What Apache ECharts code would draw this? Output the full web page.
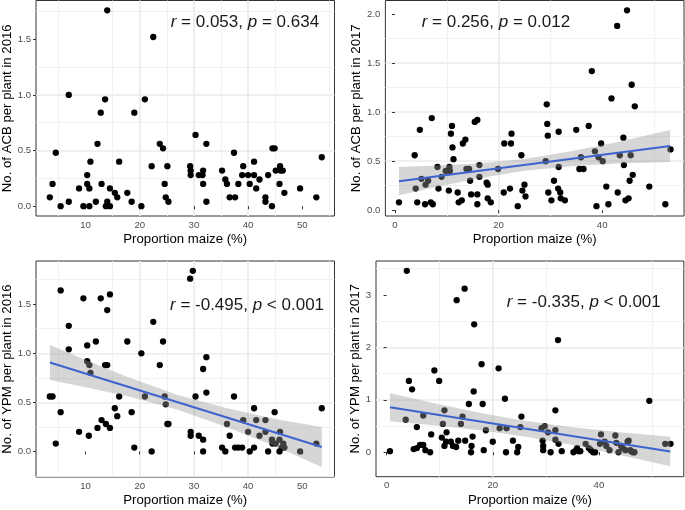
<!DOCTYPE html>
<html>
<head>
<meta charset="utf-8">
<script src="https://cdn.jsdelivr.net/npm/echarts@6/dist/echarts.min.js"></script>
<style>
  html, body { margin: 0; padding: 0; background: #fff; }
  #mainChart { width: 685px; height: 510px; }
</style>
</head>
<body>
<div id="mainChart"></div>
<script>
// points: [proportion maize (%), count per plant]
var acb2016 = [[3.4,0.08],[3.9,0.2],[4.5,0.48],[5.4,0],[6.9,1.0],[6.9,0.04],[8.8,0.16],[9.6,0],[10.3,0.28],[10.3,0.2],
  [10.7,0.16],[10.7,0],[10.9,0.4],[11.9,0.04],[12.2,0.56],[12.8,0.84],[12.95,0.2],[13.6,0.96],[14.0,0.04],[14.0,1.76],
  [13.75,0],[14.5,0],[14.5,0.16],[15.4,0.12],[15.85,0.08],[16.2,0.4],[17.7,0.12],[18.5,0.04],[19.0,0.84],[20.3,0],
  [20.95,0.96],[22.2,0.36],[22.5,1.52],[23.7,0.56],[24.3,0.52],[24.6,0.2],[24.8,0.08],[25.1,0.36],[25.3,0.04],[29.3,0.36],
  [29.4,0.32],[29.4,0.28],[30.3,0.64],[30.9,0.28],[31.6,0.28],[31.7,0.32],[31.7,0.2],[32.3,0.56],[32.3,0.04],[35.2,0.32],
  [35.8,0.24],[36.1,0.2],[36.6,0.08],[37.4,0.48],[37.6,0.08],[38.2,0.2],[38.9,0.28],[39.1,0.36],[40.0,0.28],[40.3,0.2],
  [41.1,0.4],[41.1,0.28],[41.5,0.16],[42.1,0.24],[43.2,0.08],[43.2,0.04],[43.7,0.28],[44.4,0],[44.5,0.52],[44.9,0.52],
  [45.1,0.32],[45.8,0.2],[45.9,0.36],[46.0,0.32],[46.4,0.32],[46.7,0.12],[49.6,0.16],[52.6,0.08],[53.6,0.44]];

var acb2017 = [[0.77,0.08],[3.8,0.56],[4.0,0.22],[4.3,0.08],[4.8,0.82],[5.1,0.32],[5.8,0.06],[5.9,0.26],[6.4,0.3],[6.9,0.08],
  [7.1,0.94],[7.3,0.06],[8.2,0.44],[8.4,0.22],[9.0,0.34],[9.8,0.4],[10.4,0.2],[10.5,0.44],[10.6,0.4],[10.8,0.78],
  [11.0,0.86],[11.1,0.64],[11.3,0.52],[12.1,0.18],[12.3,0.08],[12.9,0.1],[13.1,0.68],[13.6,0.72],[13.8,0.42],[14.3,0.42],
  [14.5,0.3],[14.7,0.16],[15.4,0.9],[15.9,0.92],[15.9,0.16],[15.9,0.06],[16.3,0.46],[16.3,0.34],[17.7,0.28],[17.9,0.26],
  [17.9,0.12],[18.5,0.08],[19.9,0.42],[21.0,0.18],[21.1,0.68],[22.2,0.22],[22.4,0.68],[22.5,0.78],[23.7,0.04],[24.4,0.56],
  [24.6,0.2],[25.0,0.26],[25.2,0.14],[29.1,0.5],[29.3,1.08],[29.4,0.88],[29.5,0.76],[29.6,0.18],[30.2,0.1],[30.7,0.3],
  [31.5,0.22],[31.6,0.8],[31.6,0.44],[31.9,0.18],[32.0,0.12],[32.8,0.1],[35.0,0.82],[35.6,0.42],[35.9,0.54],[36.4,0.42],
  [37.4,0.86],[38.0,1.42],[38.6,0.6],[38.9,0.04],[39.3,0.54],[39.8,0.68],[40.1,0.5],[40.8,0.24],[41.2,0.06],[41.8,1.14],
  [42.9,1.88],[43.0,0.18],[43.4,0.56],[44.1,0.74],[44.2,0.46],[44.5,0.1],[44.8,2.04],[45.1,0.12],[45.3,0.3],[45.5,0.56],
  [45.7,1.28],[45.9,0.36],[46.3,1.06],[49.1,0.24],[52.2,0.06],[53.2,0.62]];

var ypm2016 = [[3.4,0.56],[3.9,0.56],[4.5,0.08],[5.4,1.64],[5.4,0.4],[6.9,1.28],[6.9,1.04],[8.8,0.2],[9.6,1.56],[10.3,1.08],
  [10.3,0.92],[10.7,0.88],[10.9,0.8],[10.6,0.16],[11.9,1.12],[12.2,0.24],[12.8,1.56],[12.95,0.32],[13.6,0.88],[14.0,0.88],
  [14.0,1.44],[13.75,0.28],[14.5,1.6],[14.5,0.24],[15.4,0.44],[15.85,0.36],[16.2,0.56],[17.7,1.12],[18.5,0.4],[19.0,0.04],
  [20.3,1.0],[20.95,0.56],[22.2,0],[22.5,1.32],[23.7,0.88],[24.3,1.12],[24.6,0.56],[24.8,0.48],[25.1,0.28],[25.3,0.28],
  [29.3,1.76],[29.8,1.84],[29.4,0.2],[29.4,0.16],[30.3,0.56],[30.9,0.16],[31.7,0.84],[31.7,0.12],[31.7,0],[32.3,0.96],
  [32.3,0.6],[35.2,0.04],[35.8,0],[36.1,0.28],[36.6,0.16],[37.4,0.56],[37.6,0.04],[38.2,0.04],[38.9,0.04],[39.1,0.32],
  [40.0,0.2],[40.3,0],[41.1,0.44],[41.1,0.04],[41.5,0.32],[42.1,0.16],[43.2,0.32],[43.2,0.2],[43.7,0],[44.4,0.12],
  [44.5,0.08],[44.9,0.4],[45.1,0.08],[45.8,0.12],[45.8,0],[45.9,0.2],[46.2,0.04],[46.5,0.08],[46.7,0.04],[49.6,0],
  [52.6,0.08],[53.6,0.44]];

var ypm2017 = [[0.63,0.02],[3.8,3.46],[3.6,0.62],[4.2,1.36],[4.8,1.2],[5.1,0.06],[5.7,0.48],[5.7,0.08],[6.3,0.14],[6.9,0.7],
  [6.9,0.14],[7.3,0.04],[8.2,0],[8.4,0.34],[9.0,1.56],[9.9,1.36],[10.4,0.28],[10.6,0.54],[10.9,0.8],[10.9,0.12],
  [11.2,0.2],[11.3,0.38],[12.1,0.2],[12.5,0.12],[13.1,0.1],[13.2,2.9],[13.5,0.22],[14.0,0.54],[14.3,0.68],[14.8,0.22],
  [14.7,3.12],[15.5,0.92],[15.9,0],[16.0,0.12],[16.2,0.3],[16.4,1.16],[16.5,2.44],[17.9,1.68],[18.1,0.92],[18.3,0.04],
  [18.7,0.42],[20.0,0.2],[21.1,1.6],[21.3,0.46],[22.3,1.02],[22.5,0],[22.6,0.46],[23.8,0.22],[24.6,0],[24.8,0.1],
  [25.2,0.48],[25.4,0.68],[29.2,0.46],[29.4,0.22],[29.5,0.12],[29.5,0.04],[29.8,0.5],[30.4,0.38],[30.9,0],[31.8,0.8],
  [31.8,0.42],[31.8,0.24],[32.3,2.14],[32.4,0.16],[33.0,0.02],[35.2,0],[35.7,0.04],[35.9,0.08],[36.2,0.02],[36.5,0.02],
  [37.5,0.16],[38.1,0.08],[38.5,0.04],[38.9,0],[39.3,0],[40.2,0.16],[40.4,0.34],[41.1,0.2],[41.4,0.12],[42.0,0.04],
  [43.1,0.32],[43.3,0.18],[43.7,0],[44.2,0.12],[44.5,0.08],[45.0,0.04],[45.4,0.2],[45.6,0.22],[45.9,0.04],[46.1,0.02],
  [46.4,0],[46.7,0],[49.5,0.98],[52.5,0.16],[53.5,0.16]];

// fitted lines and their grey bands, read at a few x positions
var acb2017Fit = [[0.77,0.295],[53.1,0.655]];
var acb2017BandX  = [0.77, 8, 16, 25, 34, 43, 53.1];
var acb2017BandLo = [0.151, 0.236, 0.323, 0.402, 0.447, 0.477, 0.492];
var acb2017BandHi = [0.439, 0.455, 0.477, 0.522, 0.601, 0.696, 0.818];

var ypm2016Fit = [[3.42,0.906],[53.6,0.045]];
var ypm2016BandX  = [3.42, 10, 18, 27, 36, 45, 53.6];
var ypm2016BandLo = [0.728, 0.655, 0.559, 0.426, 0.250, 0.054, -0.159];
var ypm2016BandHi = [1.084, 0.932, 0.753, 0.576, 0.444, 0.331, 0.248];

var ypm2017Fit = [[0.63,0.858],[53.45,0.013]];
var ypm2017BandX  = [0.63, 9, 18, 26, 35, 44, 53.45];
var ypm2017BandLo = [0.591, 0.513, 0.415, 0.302, 0.139, -0.053, -0.269];
var ypm2017BandHi = [1.125, 0.935, 0.745, 0.602, 0.477, 0.381, 0.295];

// tick labels
var xTicks2016 = [10, 20, 30, 40, 50];
var xTicks2017 = [0, 20, 40];
var yTicksAcb16 = [0, 0.5, 1.0, 1.5];
var yTicksAcb17 = [0, 0.5, 1.0, 1.5, 2.0];
var yTicksYpm16 = [0, 0.5, 1.0, 1.5];
var yTicksYpm17 = [0, 1, 2, 3];

var statText = [
    "{i|r} = 0.053, {i|p} = 0.634",
    "{i|r} = 0.256, {i|p} = 0.012",
    "{i|r} = -0.495, {i|p} < 0.001",
    "{i|r} = -0.335, {i|p} < 0.001"
];

var FONT = "Liberation Sans, Arial, Helvetica, sans-serif";

var myChart = echarts.init(document.getElementById("mainChart"));

function makeX(idx, min, max, step, ticks) {
    return {
        type: "value", gridIndex: idx, min: min, max: max,
        splitNumber: 5, minInterval: step, maxInterval: step,
        name: "Proportion maize (%)", nameLocation: "middle", nameGap: 17,
        nameTextStyle: {fontSize: 13.2, color: "#000", fontFamily: FONT},
        axisLine: {show: false},
        axisTick: {show: true, length: 3, customValues: ticks, lineStyle: {color: "#333", width: 1}},
        axisLabel: {customValues: ticks, margin: 4, fontSize: 9.6, color: "#4D4D4D", fontFamily: FONT},
        splitLine: {show: true, showMinLine: false, showMaxLine: false, lineStyle: {color: "#EBEBEB", width: 1.7}},
        minorTick: {show: false, splitNumber: 2},
        minorSplitLine: {show: true, lineStyle: {color: "#EFEFEF", width: 0.9}}
    };
}

function makeY(idx, min, max, step, ticks, title, gap, digits) {
    return {
        type: "value", gridIndex: idx, min: min, max: max,
        splitNumber: 4, minInterval: step, maxInterval: step,
        name: title, nameLocation: "middle", nameGap: gap,
        nameTextStyle: {fontSize: 13.2, color: "#000", fontFamily: FONT},
        axisLine: {show: false},
        axisTick: {show: true, length: 3, customValues: ticks, lineStyle: {color: "#333", width: 1}},
        axisLabel: {
            customValues: ticks, margin: 5, fontSize: 9.6, color: "#4D4D4D", fontFamily: FONT,
            formatter: function (v) { return v.toFixed(digits); }
        },
        splitLine: {show: true, showMinLine: false, showMaxLine: false, lineStyle: {color: "#EBEBEB", width: 1.7}},
        minorTick: {show: false, splitNumber: 2},
        minorSplitLine: {show: true, lineStyle: {color: "#EFEFEF", width: 0.9}}
    };
}

function pointsSeries(idx, data) {
    return {
        type: "scatter", xAxisIndex: idx, yAxisIndex: idx, data: data,
        symbol: "circle", symbolSize: 6.3, itemStyle: {color: "#000", opacity: 1}, z: 2, silent: true
    };
}

// grey confidence band: one polygon through the band rows
function bandSeries(idx, xs, lo, hi) {
    var rows = [];
    for (var i = 0; i < xs.length; i++) {
        rows.push([xs[i], lo[i], hi[i]]);
    }
    return {
        type: "custom", xAxisIndex: idx, yAxisIndex: idx, data: rows,
        encode: {x: 0, y: [1, 2]}, z: 3, silent: true, clip: true,
        renderItem: function (params, api) {
            if (params.dataIndexInside !== 0) return;
            var pts = [];
            for (var k = 0; k < rows.length; k++) pts.push(api.coord([rows[k][0], rows[k][2]]));
            for (var k2 = rows.length - 1; k2 >= 0; k2--) pts.push(api.coord([rows[k2][0], rows[k2][1]]));
            return {
                type: "polygon", shape: {points: pts},
                style: {fill: "rgba(153,153,153,0.4)", stroke: null}
            };
        }
    };
}

function fitSeries(idx, data) {
    return {
        type: "line", xAxisIndex: idx, yAxisIndex: idx, data: data,
        symbol: "none", lineStyle: {color: "#3D64CE", width: 2}, z: 4, silent: true
    };
}

function statTitle(text, left, top) {
    var st = {fontSize: 17, fontFamily: FONT, color: "#1A1A1A", fontWeight: "normal", lineHeight: 20};
    return {
        text: text, left: left, top: top, padding: 0,
        textStyle: {
            fontSize: 17, fontFamily: FONT, color: "#1A1A1A", fontWeight: "normal", lineHeight: 20,
            rich: {i: Object.assign({fontStyle: "italic"}, st)}
        }
    };
}

var series = [
    pointsSeries(0, acb2016),
    pointsSeries(1, acb2017),
    pointsSeries(2, ypm2016),
    pointsSeries(3, ypm2017),
    bandSeries(1, acb2017BandX, acb2017BandLo, acb2017BandHi),
    bandSeries(2, ypm2016BandX, ypm2016BandLo, ypm2016BandHi),
    bandSeries(3, ypm2017BandX, ypm2017BandLo, ypm2017BandHi),
    fitSeries(1, acb2017Fit),
    fitSeries(2, ypm2016Fit),
    fitSeries(3, ypm2017Fit)
];

var gridStyle = {show: true, borderColor: "#333", borderWidth: 1, backgroundColor: "transparent",
    containLabel: false, outerBoundsMode: "none"};

var option = {
    animation: false,
    backgroundColor: "#fff",
    textStyle: {fontFamily: FONT},
    title: [
        statTitle(statText[0], 170.7, 12.7),
        statTitle(statText[1], 421.7, 12.7),
        statTitle(statText[2], 170, 295),
        statTitle(statText[3], 506.7, 292.7)
    ],
    grid: [
        Object.assign({left: 36, top: 0.5, width: 298.5, height: 215.5}, gridStyle),
        Object.assign({left: 385.4, top: 0.5, width: 298.6, height: 215.5}, gridStyle),
        Object.assign({left: 36, top: 261, width: 298.5, height: 216}, gridStyle),
        Object.assign({left: 376, top: 261, width: 307.8, height: 215.7}, gridStyle)
    ],
    xAxis: [
        makeX(0, 0.85, 55.95, 10, xTicks2016),
        makeX(1, -1.85, 55.8, 20, xTicks2017),
        makeX(2, 0.85, 55.95, 10, xTicks2016),
        makeX(3, -2.0, 56.0, 20, xTicks2017)
    ],
    yAxis: [
        makeY(0, -0.088, 1.848, 0.5, yTicksAcb16, "No. of ACB per plant in 2016", 21, 1),
        makeY(1, -0.06, 2.14, 0.5, yTicksAcb17, "No. of ACB per plant in 2017", 22, 1),
        makeY(2, -0.26, 1.94, 0.5, yTicksYpm16, "No. of YPM per plant in 2016", 22, 1),
        makeY(3, -0.466, 3.647, 1, yTicksYpm17, "No. of YPM per plant in 2017", 14, 0)
    ],
    series: series
};

myChart.setOption(option);
</script>
</body>
</html>
